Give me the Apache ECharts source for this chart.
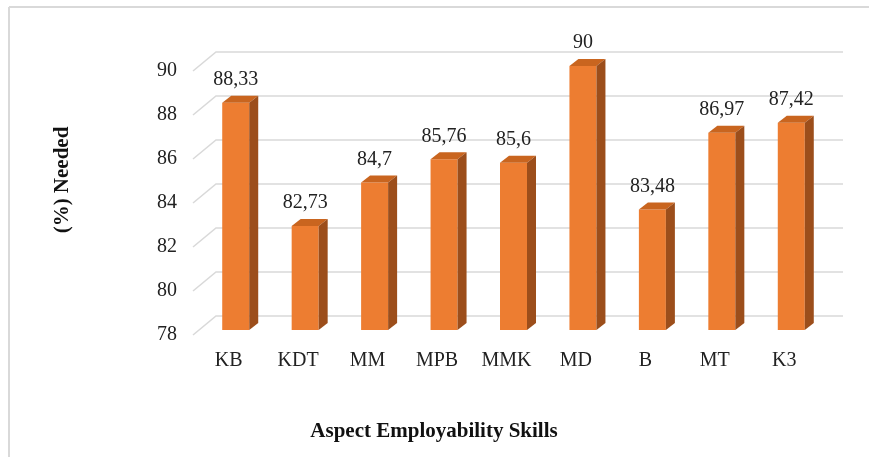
<!DOCTYPE html>
<html>
<head>
<meta charset="utf-8">
<script src="https://cdn.jsdelivr.net/npm/echarts@6/dist/echarts.min.js"></script>
<style>html,body{margin:0;padding:0;background:#fff;}#c{width:869px;height:457px;}</style>
</head>
<body>
<div id="c"></div>
<script>
const categories = ['KB', 'KDT', 'MM', 'MPB', 'MMK', 'MD', 'B', 'MT', 'K3'];
const values = [88.33, 82.73, 84.7, 85.76, 85.6, 90, 83.48, 86.97, 87.42];
const yTicks = [78, 80, 82, 84, 86, 88, 90];
const yTitle = '(%) Needed';
const xTitle = 'Aspect Employability Skills';

const FONT = 'Liberation Serif';
const chart = echarts.init(document.getElementById('c'), null, {renderer: 'canvas'});

const FRONT = '#ED7D31', TOP = '#C9651F', SIDE = '#9C4E1B';
const BW = 27, DX = 9, DY = -7, LIFT = 5;

function fmt(v) { return String(v).replace('.', ','); }

chart.setOption({
  backgroundColor: '#fff',
  animation: false,
  grid: {left: 201, right: 43, top: 71, bottom: 122},
  xAxis: {
    type: 'category', data: categories,
    axisLine: {show: false}, axisTick: {show: false},
    axisLabel: {fontFamily: FONT, fontSize: 20, color: '#222', margin: 16, padding: [0, 14, 0, 0]}
  },
  yAxis: {
    type: 'value', min: 78, max: 90, interval: 2,
    axisLine: {show: false}, axisTick: {show: false}, splitLine: {show: false},
    axisLabel: {fontFamily: FONT, fontSize: 20, color: '#222', margin: 24}
  },
  graphic: [
    {type: 'line', shape: {x1: 9, y1: 7, x2: 9, y2: 457}, style: {stroke: '#d9d9d9', lineWidth: 2}},
    {type: 'line', shape: {x1: 9, y1: 7, x2: 869, y2: 7}, style: {stroke: '#d9d9d9', lineWidth: 2}},
    {type: 'text', x: 63, y: 180, rotation: Math.PI / 2,
     style: {text: yTitle, font: 'bold 21px "Liberation Serif"', fill: '#111', textAlign: 'center', textVerticalAlign: 'middle'}},
    {type: 'text', x: 434, y: 432,
     style: {text: xTitle, font: 'bold 21px "Liberation Serif"', fill: '#111', textAlign: 'center', textVerticalAlign: 'middle'}}
  ],
  series: [
    {
      type: 'custom',
      data: yTicks.map(v => [0, v]),
      silent: true,
      renderItem: function (params, api) {
        const cs = params.coordSys;
        const y = api.coord([0, api.value(1)])[1];
        const xa = cs.x - 8, xb = cs.x + 15, xc = cs.x + cs.width + 17;
        return {
          type: 'polyline',
          shape: {points: [[xa, y], [xb, y - 19], [xc, y - 19]]},
          style: {stroke: '#d9d9d9', lineWidth: 1.5, fill: null}
        };
      }
    },
    {
      type: 'custom',
      data: values.map((v, i) => [i, v]),
      renderItem: function (params, api) {
        const p = api.coord([api.value(0), api.value(1)]);
        const b = api.coord([api.value(0), 78]);
        const x0 = p[0] - BW / 2, x1 = x0 + BW;
        const yt = p[1] - LIFT, yb = b[1] - LIFT;
        return {
          type: 'group',
          children: [
            {type: 'rect', shape: {x: x0, y: yt, width: BW, height: yb - yt}, style: {fill: FRONT}},
            {type: 'polygon', shape: {points: [[x0, yt], [x1, yt], [x1 + DX, yt + DY], [x0 + DX, yt + DY]]}, style: {fill: TOP}},
            {type: 'polygon', shape: {points: [[x1, yt], [x1 + DX, yt + DY], [x1 + DX, yb + DY], [x1, yb]]}, style: {fill: SIDE}},
            {type: 'text', x: p[0], y: yt - 13,
             style: {text: fmt(api.value(1)), font: '20px "Liberation Serif"', fill: '#222', textAlign: 'center', textVerticalAlign: 'bottom'}}
          ]
        };
      }
    }
  ]
});
</script>
</body>
</html>
